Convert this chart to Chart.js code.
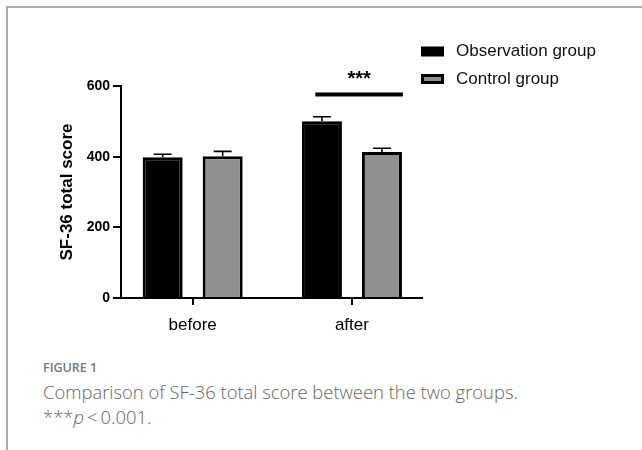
<!DOCTYPE html>
<html lang="en">
<head>
    <meta charset="UTF-8">
    <title>SF-36 total score</title>
    <style>
        body {
            margin: 0;
            background: #fff;
        }
        .page {
            position: relative;
            width: 642px;
            height: 450px;
            overflow: hidden;
        }
        .frame {
            position: absolute;
            left: 6px;
            top: 6px;
            width: 660px;
            height: 460px;
            border-top: 2px solid #adadad;
            border-left: 2px solid #adadad;
        }
        #myChart {
            position: absolute;
            left: 0;
            top: 0;
        }
        .caption {
            position: absolute;
            left: 43px;
            font-family: "Open Sans", sans-serif;
            color: #666;
            white-space: nowrap;
        }
        .fig {
            top: 359px;
            font-size: 12.5px;
            font-weight: 600;
            color: #777;
        }
        .line1 {
            top: 379px;
            font-size: 18.4px;
            font-weight: 300;
        }
        .line2 {
            top: 404px;
            font-size: 18.4px;
            font-weight: 300;
        }
    </style>
</head>
<body>
<div class="page">
    <div class="frame"></div>
    <canvas id="myChart" width="642" height="343"></canvas>
    <div class="caption fig">FIGURE 1</div>
    <div class="caption line1">Comparison of SF-36 total score between the two groups.</div>
    <div class="caption line2">***<i>p</i>&thinsp;&lt;&thinsp;0.001.</div>
</div>

<script src="https://cdn.jsdelivr.net/npm/chart.js"></script>
<script>
    // data
    const categories = ['before', 'after'];
    const groupNames = ['Observation group', 'Control group'];
    const observation = [398, 500];
    const observationSd = [9, 13];
    const control = [401, 413];
    const controlSd = [14, 11];
    const yTicks = [0, 200, 400, 600];
    // significance bar: from/to in category units, height in score units
    const sigMarks = [{ from: 0.77, to: 1.32, y: 576, label: '***' }];

    const colors = ['#000000', '#8f8f8f'];

    const toPoints = arr => arr.map((v, i) => ({ x: i, y: v }));

    const errorBars = {
        id: 'errorBars',
        afterDatasetsDraw(chart) {
            const ctx = chart.ctx;
            const y = chart.scales.y;
            ctx.save();
            ctx.strokeStyle = '#000';
            ctx.lineWidth = 1.6;
            chart.data.datasets.forEach((ds, di) => {
                const meta = chart.getDatasetMeta(di);
                meta.data.forEach((bar, i) => {
                    const top = y.getPixelForValue(ds.data[i].y + ds.sd[i]);
                    ctx.beginPath();
                    ctx.moveTo(bar.x, bar.y);
                    ctx.lineTo(bar.x, top);
                    ctx.moveTo(bar.x - 9, top);
                    ctx.lineTo(bar.x + 9, top);
                    ctx.stroke();
                });
            });
            ctx.restore();
        }
    };

    const extras = {
        id: 'extras',
        afterDraw(chart) {
            const ctx = chart.ctx;
            const x = chart.scales.x;
            const y = chart.scales.y;
            ctx.save();
            // significance
            sigMarks.forEach(m => {
                const py = y.getPixelForValue(m.y);
                const x0 = x.getPixelForValue(m.from);
                const x1 = x.getPixelForValue(m.to);
                ctx.fillStyle = '#000';
                ctx.fillRect(x0, py - 2, x1 - x0, 4);
                ctx.font = 'bold 20px "Liberation Sans", Arial, sans-serif';
                ctx.textAlign = 'center';
                ctx.textBaseline = 'alphabetic';
                ctx.fillText(m.label, (x0 + x1) / 2, py - 9);
            });
            // legend
            ctx.font = '17px "Liberation Sans", Arial, sans-serif';
            ctx.textAlign = 'left';
            ctx.textBaseline = 'middle';
            groupNames.forEach((name, i) => {
                const cy = 51.5 + i * 27.5;
                ctx.fillStyle = '#000';
                ctx.fillRect(421, cy - 5, 23, 10);
                ctx.fillStyle = colors[i];
                ctx.fillRect(424, cy - 2, 17, 4);
                ctx.fillStyle = '#111';
                ctx.fillText(name, 456, cy);
            });
            ctx.restore();
        }
    };

    const ctx = document.getElementById('myChart').getContext('2d');
    const myChart = new Chart(ctx, {
        type: 'bar',
        data: {
            datasets: [
                { label: groupNames[0], data: toPoints(observation), sd: observationSd, backgroundColor: colors[0] },
                { label: groupNames[1], data: toPoints(control), sd: controlSd, backgroundColor: colors[1] }
            ]
        },
        options: {
            responsive: false,
            animation: false,
            maintainAspectRatio: false,
            layout: { padding: { top: 86, right: 220, left: 0, bottom: 0 } },
            datasets: {
                bar: {
                    borderColor: '#000',
                    borderWidth: 3,
                    borderSkipped: 'start',
                    categoryPercentage: 0.7535,
                    barPercentage: 0.667
                }
            },
            plugins: {
                legend: { display: false },
                tooltip: { enabled: false }
            },
            scales: {
                x: {
                    type: 'linear',
                    min: -0.45,
                    max: 1.44,
                    offset: false,
                    afterBuildTicks: s => { s.ticks = categories.map((c, i) => ({ value: i })); },
                    afterFit: s => { s.height = 45; },
                    ticks: {
                        callback: v => categories[v],
                        color: '#000',
                        font: { family: '"Liberation Sans", Arial, sans-serif', size: 17 },
                        padding: 10,
                        maxRotation: 0
                    },
                    grid: { offset: false, drawOnChartArea: false, color: '#000', lineWidth: 2, tickLength: 7 },
                    border: { color: '#000', width: 2 }
                },
                y: {
                    min: 0,
                    max: 600,
                    afterBuildTicks: s => { s.ticks = yTicks.map(v => ({ value: v })); },
                    afterFit: s => { s.width = 121; },
                    ticks: {
                        color: '#000',
                        font: { family: '"Liberation Sans", Arial, sans-serif', size: 14, weight: 'bold' },
                        padding: 3
                    },
                    grid: { drawOnChartArea: false, color: '#000', lineWidth: 2, tickLength: 8 },
                    border: { color: '#000', width: 2 },
                    title: {
                        display: true,
                        text: 'SF-36 total score',
                        color: '#000',
                        font: { family: '"Liberation Sans", Arial, sans-serif', size: 17, weight: 'bold' },
                        padding: { top: 57, bottom: 0 }
                    }
                }
            }
        },
        plugins: [errorBars, extras]
    });
</script>
</body>
</html>
